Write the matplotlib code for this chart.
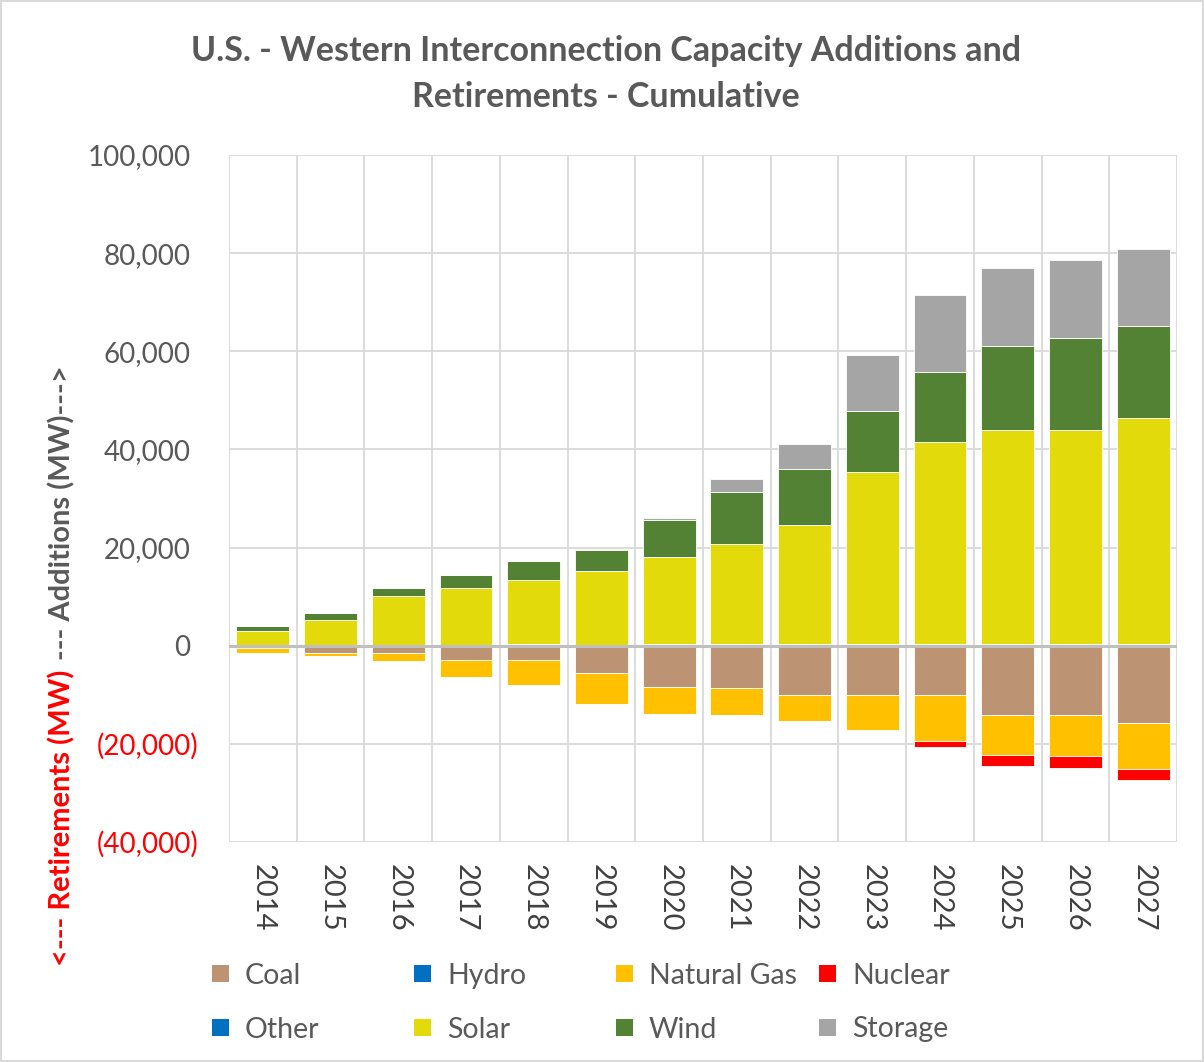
import matplotlib
matplotlib.use("Agg")
import matplotlib.pyplot as plt
from matplotlib.patches import Rectangle
from matplotlib.transforms import ScaledTranslation
import numpy as np

years = ["2014", "2015", "2016", "2017", "2018", "2019", "2020",
         "2021", "2022", "2023", "2024", "2025", "2026", "2027"]

# Retirements (MW, magnitudes, plotted negative)
coal = [470, 1490, 1550, 2910, 2910, 5620, 8350, 8620, 9980, 9980, 9980, 14200, 14200, 15750]
natural_gas = [960, 600, 1500, 3400, 5100, 6190, 5560, 5580, 5360, 7270, 9510, 8070, 8340, 9370]
nuclear = [0, 0, 0, 0, 0, 0, 0, 0, 0, 0, 1150, 2310, 2310, 2240]

# Additions (MW)
hydro = [0, 0, 0, 0, 50, 50, 50, 50, 50, 50, 50, 100, 150, 150]
other = [100, 200, 150, 150, 200, 150, 200, 200, 200, 200, 200, 250, 300, 300]
solar = [2850, 4990, 9990, 11700, 13090, 14970, 17780, 20420, 24300, 35090, 41350, 43610, 43590, 46040]
wind = [1020, 1430, 1710, 2510, 3870, 4280, 7530, 10600, 11400, 12490, 14170, 17190, 18660, 18590]
storage = [0, 0, 0, 0, 100, 200, 410, 2650, 5090, 11480, 15630, 15810, 15830, 15820]

yticks = [-40000, -20000, 0, 20000, 40000, 60000, 80000, 100000]

colors = {
    "Coal": "#BC9473",
    "Hydro": "#0070C0",
    "Natural Gas": "#FFC000",
    "Nuclear": "#FF0000",
    "Other": "#0070C0",
    "Solar": "#E3DA0B",
    "Wind": "#548235",
    "Storage": "#A5A5A5",
}

FONT = "Lato"
plt.rcParams["font.family"] = [FONT, "DejaVu Sans"]

W, H = 1204, 1062
fig = plt.figure(figsize=(W / 100, H / 100), dpi=100)
ax = fig.add_axes([229 / W, 1 - 842 / H, (1177 - 229) / W, (842 - 155) / H])

x = np.arange(len(years))
w = 0.78
ekw = dict(edgecolor="#FFFFFF", linewidth=0.6, zorder=3)

# negative stack
neg_bottom = np.zeros(len(years))
for name, vals in [("Coal", coal), ("Natural Gas", natural_gas), ("Nuclear", nuclear)]:
    v = -np.array(vals, dtype=float)
    ax.bar(x, v, w, bottom=neg_bottom, color=colors[name], label=name, **ekw)
    neg_bottom += v

# positive stack
pos_bottom = np.zeros(len(years))
for name, vals in [("Hydro", hydro), ("Other", other), ("Solar", solar),
                   ("Wind", wind), ("Storage", storage)]:
    v = np.array(vals, dtype=float)
    ax.bar(x, v, w, bottom=pos_bottom, color=colors[name], label=name, **ekw)
    pos_bottom += v

ax.set_xlim(-0.5, len(years) - 0.5)
ax.set_ylim(-40000, 100000)
ax.set_yticks(yticks)

def fmt(v):
    if v < 0:
        return "({:,})".format(int(-v))
    return "{:,}".format(int(v))

ax.set_yticklabels([fmt(v) for v in yticks], fontsize=20)
ax.tick_params(axis="y", length=0, pad=22)
for lab, v in zip(ax.get_yticklabels(), yticks):
    if v < 0:
        lab.set_color("#FF0000")
    else:
        lab.set_color("#595959")
        lab.set_transform(lab.get_transform() + ScaledTranslation(-8 / 100, 0, fig.dpi_scale_trans))

ax.set_xticks(x)
ax.set_xticklabels(years, rotation=270, fontsize=21, color="#404040")
ax.tick_params(axis="x", length=0, pad=16)

for s in ax.spines.values():
    s.set_visible(False)

for v in yticks:
    if v == 0:
        continue
    ax.axhline(v, color="#D9D9D9", linewidth=1.3, zorder=1)
for i in range(len(years) + 1):
    ax.axvline(i - 0.5, color="#D9D9D9", linewidth=1.3, zorder=1)
ax.axhline(0, color="#BFBFBF", linewidth=2.2, zorder=4)

# title
fig.text(606 / W, 1 - 51 / H, "U.S. - Western Interconnection Capacity Additions and",
         ha="center", va="center", fontsize=24.5, fontweight="bold", color="#595959")
fig.text(606 / W, 1 - 97 / H, "Retirements - Cumulative",
         ha="center", va="center", fontsize=24.5, fontweight="bold", color="#595959")

# y label two-colour
fig.text(62 / W, 1 - 966 / H, "<--- Retirements (MW)", rotation=90,
         ha="center", va="bottom", fontsize=21, fontweight="bold", color="#FF0000")
fig.text(62 / W, 1 - 365 / H, "--- Additions (MW)--->", rotation=90,
         ha="center", va="top", fontsize=21, fontweight="bold", color="#595959")

# legend: 4 columns x 2 rows, laid out like the reference
legend_rows = [["Coal", "Hydro", "Natural Gas", "Nuclear"],
               ["Other", "Solar", "Wind", "Storage"]]
col_x = [212, 414, 616, 819]
row_y = [973.5, 1027]
sq = 17
for ry, names in zip(row_y, legend_rows):
    for cx, n in zip(col_x, names):
        fig.patches.append(Rectangle((cx / W, 1 - (ry + sq / 2) / H), sq / W, sq / H,
                                     transform=fig.transFigure, facecolor=colors[n],
                                     edgecolor="none"))
        fig.text((cx + 33) / W, 1 - ry / H, n, ha="left", va="center_baseline",
                 fontsize=20.5, color="#595959")

# chart border
fig.patches.append(Rectangle((1 / W, 1 / H), 1 - 2 / W, 1 - 2 / H,
                             transform=fig.transFigure, fill=False,
                             edgecolor="#D9D9D9", linewidth=1.5))

fig.savefig("out.png", dpi=100, facecolor="white")
